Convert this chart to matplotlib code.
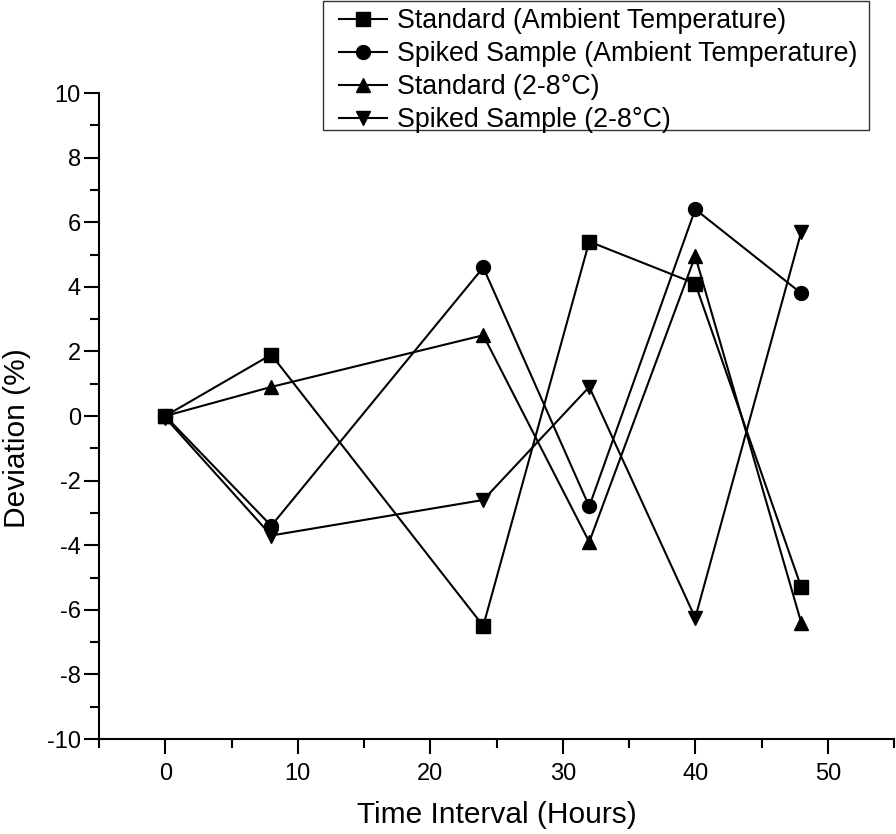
import matplotlib
matplotlib.use('Agg')
import matplotlib.pyplot as plt
from matplotlib.patches import Rectangle
from matplotlib.ticker import MultipleLocator

plt.rcParams['font.family'] = ['Liberation Sans', 'DejaVu Sans']
plt.rcParams['axes.unicode_minus'] = False

hours = [0, 8, 24, 32, 40, 48]
std_ambient = [0.0, 1.9, -6.5, 5.4, 4.1, -5.3]
spiked_ambient = [0.0, -3.4, 4.6, -2.8, 6.4, 3.8]
std_cold = [0.0, 0.9, 2.5, -3.9, 4.95, -6.4]
spiked_cold = [-0.05, -3.7, -2.6, 0.9, -6.25, 5.7]

labels = ['Standard (Ambient Temperature)',
          'Spiked Sample (Ambient Temperature)',
          'Standard (2-8°C)',
          'Spiked Sample (2-8°C)']

W, H = 896, 834
fig = plt.figure(figsize=(W / 100, H / 100), dpi=100)
ax = fig.add_axes([99 / W, 1 - 739 / H, 795 / W, 646 / H])

series = [std_ambient, spiked_ambient, std_cold, spiked_cold]
markers = ['s', 'o', '^', 'v']
for vals, m, lab in zip(series, markers, labels):
    ax.plot(hours, vals, color='black', lw=1.5, marker=m, markersize=10,
            label=lab)

ax.set_xlim(-5, 55)
ax.set_ylim(-10, 10)
ax.xaxis.set_major_locator(MultipleLocator(10))
ax.xaxis.set_minor_locator(MultipleLocator(5))
ax.yaxis.set_major_locator(MultipleLocator(2))
ax.yaxis.set_minor_locator(MultipleLocator(1))
ax.tick_params(which='major', direction='out', length=11, width=1.5,
               labelsize=17)
ax.tick_params(axis='x', which='major', pad=6)
ax.tick_params(axis='y', which='major', pad=2)
ax.tick_params(which='minor', direction='out', length=6.5, width=1.5)
ax.spines['top'].set_visible(False)
ax.spines['right'].set_visible(False)
for s in ['left', 'bottom']:
    ax.spines[s].set_linewidth(1.5)

ax.set_xlabel('Time Interval (Hours)', fontsize=21.5, labelpad=12)
ax.set_ylabel('Deviation (%)', fontsize=21.5)
ax.yaxis.set_label_coords(-0.085, 0.466)

# legend box (frame drawn separately so the padding matches)
fig.patches.append(Rectangle((323 / W, 1 - 130 / H), 546 / W, 129 / H,
                             transform=fig.transFigure, fill=False,
                             edgecolor='#333333', lw=1.0))
fig.legend(loc='upper left', bbox_to_anchor=(339 / W, 1 - 8 / H),
           borderaxespad=0, borderpad=0, fontsize=19.3, frameon=False,
           labelspacing=0.26, handlelength=1.8, handletextpad=0.37)

fig.savefig('out.png', dpi=100)
